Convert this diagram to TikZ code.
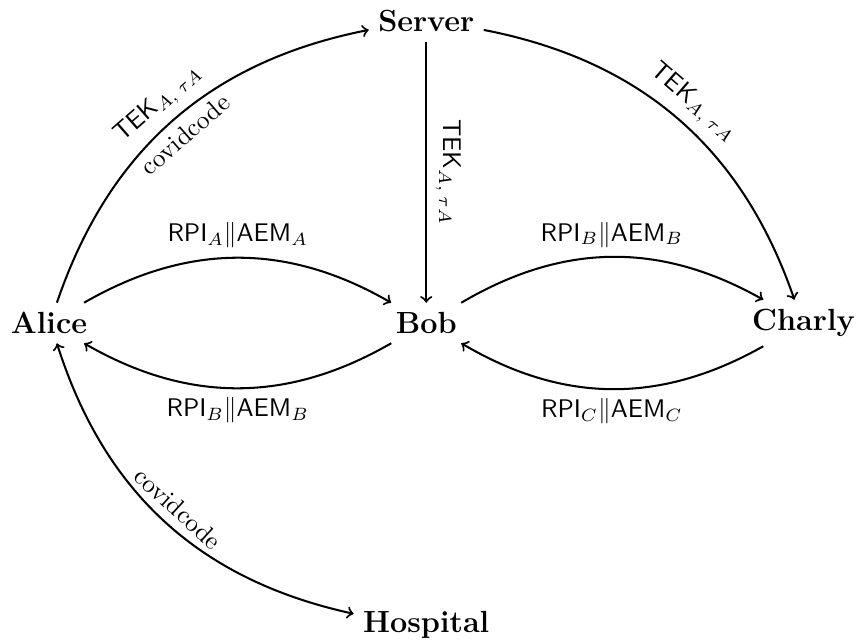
\documentclass[tikz,border=0pt]{standalone}
\usepackage{tikz}

\begin{document}
\begin{tikzpicture}[party/.style={font=\large\bfseries}, >=to, thick]

        % Background
        \useasboundingbox (-0.675,-4.397) rectangle (11.151,4.452);

        % Parties
        \node[party] (alice) at (0,0) {Alice};
        \node[party] (bob) at (5.2,0) {Bob};
        \node[party] (charly) at (10.4,0) {Charly};
        \node[party] (server) at (5.2,4.16) {Server};
        \node[party] (hospital) at (5.2,-4.16) {Hospital};

        % Upload and download of keys
        \draw[->] (alice) to[bend left=30]
            node[sloped,above] {$\textsf{TEK}_{A,\;\tau A}$}
            node[sloped,below] {covidcode} (server);
        \draw[->] (server) to[bend left=30]
            node[sloped,above] {$\textsf{TEK}_{A,\;\tau A}$} (charly);
        \draw[->] (server) -- node[sloped,above] {$\textsf{TEK}_{A,\;\tau A}$} (bob);

        % Broadcast between neighbours
        \foreach \from/\to/\side/\id in {alice/bob/above/A,bob/alice/below/B,bob/charly/above/B,charly/bob/below/C} {
            \draw[->] (\from) to[bend left=30]
                node[\side] {$\textsf{RPI}_\id\|\textsf{AEM}_\id$} (\to);
        }

        % Hospital
        \draw[<->] (alice) to[bend right=30] node[sloped,above] {covidcode} (hospital);

    \end{tikzpicture}
\end{document}
